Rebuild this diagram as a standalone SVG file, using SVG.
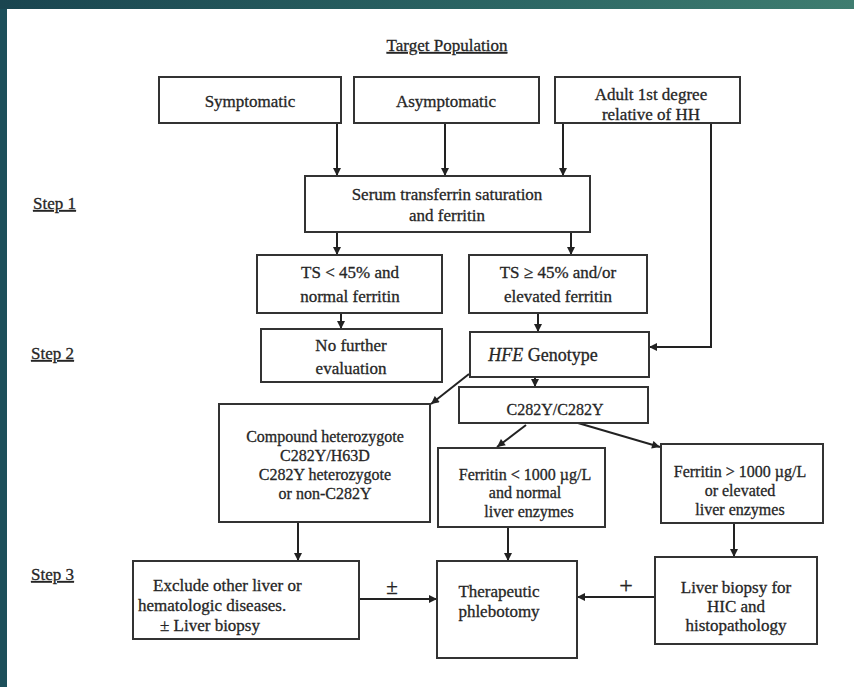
<svg xmlns="http://www.w3.org/2000/svg" width="854" height="687" viewBox="0 0 854 687">
<defs>
<linearGradient id="band" x1="0" y1="0" x2="1" y2="0">
<stop offset="0" stop-color="#1a4550"/>
<stop offset="0.6" stop-color="#2c6664"/>
<stop offset="1" stop-color="#3f7d70"/>
</linearGradient>
<marker id="ah" viewBox="0 0 10 10" refX="10" refY="5" markerWidth="9" markerHeight="8" markerUnits="userSpaceOnUse" orient="auto">
<path d="M0,0 L10,5 L0,10 z" fill="#222"/>
</marker>
<style>
.box{fill:#fff;stroke:#333;stroke-width:2}
.t{font-family:"Liberation Serif","Times New Roman",serif;font-size:17px;fill:#262626;stroke:#262626;stroke-width:0.3;text-anchor:middle}
.s{font-size:16px}
.l{text-anchor:start}
.u{text-decoration:underline}
.ca{fill:none;stroke:#222;stroke-width:2;marker-end:url(#ah)}
</style>
</defs>
<rect width="854" height="687" fill="#1c4f5a"/>
<rect width="854" height="9" fill="url(#band)"/>
<rect x="7" y="9" width="847" height="678" fill="#ffffff"/>

<g id="title"><text class="t u" x="447" y="51">Target Population</text></g>
<g id="step1"><text class="t l u" x="33" y="209">Step 1</text></g>
<g id="step2"><text class="t l u" x="31" y="359">Step 2</text></g>
<g id="step3"><text class="t l u" x="31" y="580">Step 3</text></g>

<g id="connectors">
<line class="ca" x1="337" y1="123" x2="337" y2="176"/>
<line class="ca" x1="445" y1="123" x2="445" y2="176"/>
<line class="ca" x1="563" y1="123" x2="563" y2="176"/>
<polyline class="ca" points="711,123 711,347 649,347"/>
<line class="ca" x1="337" y1="232" x2="337" y2="255"/>
<line class="ca" x1="571" y1="232" x2="571" y2="255"/>
<line class="ca" x1="341" y1="313" x2="341" y2="329"/>
<line class="ca" x1="538" y1="313" x2="538" y2="332"/>
<line class="ca" x1="535" y1="377" x2="535" y2="387"/>
<line class="ca" x1="469" y1="374" x2="431" y2="404"/>
<line class="ca" x1="526" y1="425" x2="497" y2="447"/>
<line class="ca" x1="578" y1="423" x2="660" y2="447"/>
<line class="ca" x1="298" y1="522" x2="298" y2="561"/>
<line class="ca" x1="508" y1="527" x2="508" y2="561"/>
<line class="ca" x1="734" y1="523" x2="734" y2="557"/>
<line class="ca" x1="359" y1="599" x2="437" y2="599"/>
<line class="ca" x1="655" y1="597" x2="577" y2="597"/>
<text class="t" x="392" y="594" style="font-size:21px">±</text>
<text class="t" x="626" y="593" style="font-size:24px">+</text>
</g>

<g id="symptomatic"><rect class="box" x="159" y="77" width="182" height="46"/><text class="t" x="250" y="107">Symptomatic</text></g>
<g id="asymptomatic"><rect class="box" x="354" y="77" width="185" height="46"/><text class="t" x="446" y="107">Asymptomatic</text></g>
<g id="adult"><rect class="box" x="555" y="77" width="185" height="46"/><text class="t" x="651" y="100">Adult 1st degree</text><text class="t" x="651" y="120">relative of HH</text></g>
<g id="serum"><rect class="box" x="305" y="176" width="285" height="56"/><text class="t" x="447" y="200">Serum transferrin saturation</text><text class="t" x="447" y="221">and ferritin</text></g>
<g id="ts-low"><rect class="box" x="257" y="255" width="185" height="58"/><text class="t" x="350" y="278">TS &lt; 45% and</text><text class="t" x="350" y="302">normal ferritin</text></g>
<g id="ts-high"><rect class="box" x="469" y="255" width="178" height="58"/><text class="t" x="558" y="278">TS ≥ 45% and/or</text><text class="t" x="558" y="302">elevated ferritin</text></g>
<g id="no-further"><rect class="box" x="261" y="329" width="181" height="53"/><text class="t" x="351" y="351">No further</text><text class="t" x="351" y="374">evaluation</text></g>
<g id="hfe"><rect class="box" x="470" y="332" width="179" height="45"/><text class="t" x="543" y="361" style="font-size:18px"><tspan font-style="italic">HFE</tspan> Genotype</text></g>
<g id="c282y"><rect class="box" x="459" y="387" width="189" height="36"/><text class="t s" x="555" y="415">C282Y/C282Y</text></g>
<g id="compound"><rect class="box" x="219" y="404" width="211" height="118"/><text class="t s" x="325" y="442">Compound heterozygote</text><text class="t s" x="325" y="461">C282Y/H63D</text><text class="t s" x="325" y="480">C282Y heterozygote</text><text class="t s" x="325" y="499">or non-C282Y</text></g>
<g id="ferritin-low"><rect class="box" x="438" y="448" width="167" height="79"/><text class="t s" x="525" y="480">Ferritin &lt; 1000 µg/L</text><text class="t s" x="525" y="498">and normal</text><text class="t s" x="529" y="517">liver enzymes</text></g>
<g id="ferritin-high"><rect class="box" x="661" y="444" width="162" height="79"/><text class="t s" x="740" y="477">Ferritin &gt; 1000 µg/L</text><text class="t s" x="740" y="496">or elevated</text><text class="t s" x="740" y="515">liver enzymes</text></g>
<g id="exclude"><rect class="box" x="133" y="561" width="226" height="78"/><text class="t l" x="153" y="591">Exclude other liver or</text><text class="t l" x="138" y="611">hematologic diseases.</text><text class="t l" x="160" y="631">± Liver biopsy</text></g>
<g id="phlebotomy"><rect class="box" x="437" y="561" width="140" height="97"/><text class="t" x="499" y="597">Therapeutic</text><text class="t" x="499" y="617">phlebotomy</text></g>
<g id="liver-biopsy"><rect class="box" x="655" y="557" width="162" height="87"/><text class="t" x="736" y="593">Liver biopsy for</text><text class="t" x="736" y="612">HIC and</text><text class="t" x="736" y="631">histopathology</text></g>
</svg>
